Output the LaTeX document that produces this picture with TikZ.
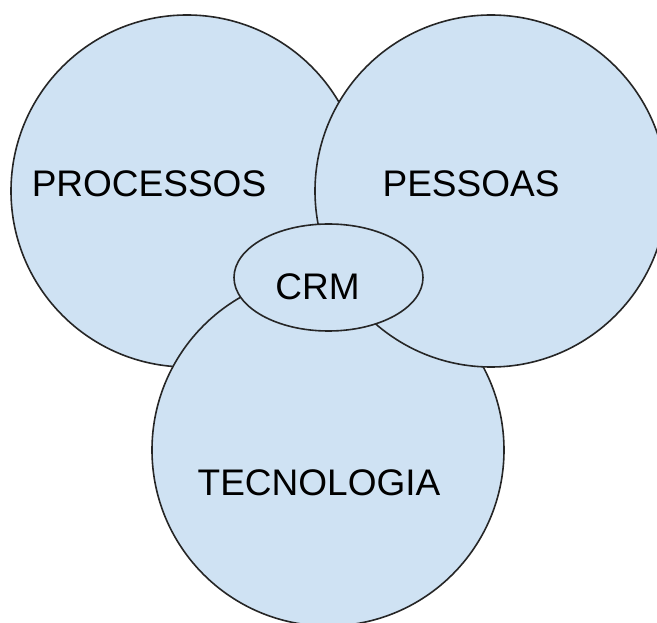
\documentclass[tikz,border=0pt]{standalone}
\usepackage{fontspec}
\setmainfont{Liberation Sans}
\usepackage{xcolor}
\usetikzlibrary{shapes.geometric}
\definecolor{setfill}{HTML}{CFE2F3}
\definecolor{setline}{HTML}{262626}
\tikzset{
  setcirc/.style  ={draw=setline,fill=setfill,circle,line width=1.6pt,
                    minimum size=352pt,inner sep=0pt},
  core/.style     ={draw=setline,fill=setfill,ellipse,line width=1.6pt,
                    minimum width=189pt,minimum height=107pt,inner sep=0pt},
  lbl/.style      ={inner sep=0pt,anchor=center,text=black,
                    font=\fontsize{37}{44}\selectfont},
}

\begin{document}
\begin{tikzpicture}[x=1pt,y=-1pt]
\clip (0,0) rectangle (657,623);
\fill[white] (0,0) rectangle (657,623);

% --- the three sets ---------------------------------------------------------
\node[setcirc] (proc) at (187,191) {};
\node[setcirc] (tec)  at (328,450) {};
\node[setcirc] (pes)  at (491,191) {};

% --- centre -----------------------------------------------------------------
\node[core] (crm) at (328.5,277.5) {};

% --- labels -----------------------------------------------------------------
\node[lbl] (lproc) at (149,184) {PROCESSOS};
\node[lbl] (lpes)  at (471,184) {PESSOAS};
\node[lbl] (lcrm)  at (317.5,286.5) {CRM};
\node[lbl] (ltec)  at (319,483) {TECNOLOGIA};

\end{tikzpicture}
\end{document}
